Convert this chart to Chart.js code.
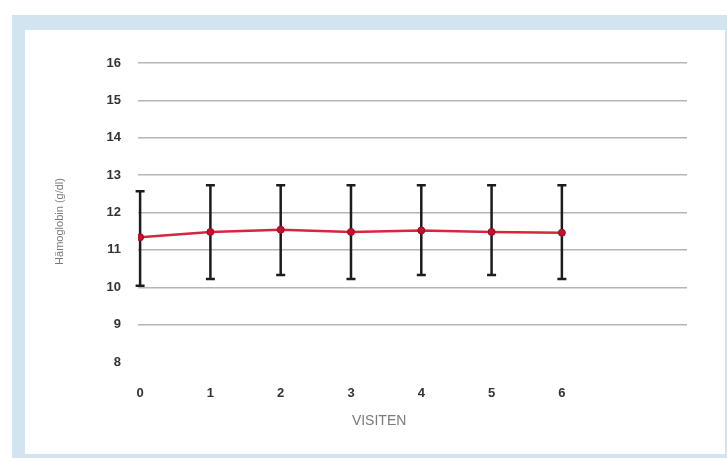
<!DOCTYPE html>
<html lang="de">
<head>
    <meta charset="utf-8" />
    <title>Hämoglobin</title>
    <style>
        html, body {
            margin: 0;
            padding: 0;
            background: #fff;
        }
        .frame {
            position: absolute;
            left: 12px;
            top: 15px;
            width: 715px;
            height: 443px;
            background: #d2e4ef;
        }
        .panel {
            position: absolute;
            left: 25px;
            top: 30px;
            width: 700px;
            height: 424px;
            background: #fff;
        }
    </style>
</head>
<body>
    <div class="frame"></div>
    <div class="panel">
        <canvas id="hbChart" width="700" height="424"></canvas>
    </div>

    <script src="https://cdn.jsdelivr.net/npm/chart.js@4/dist/chart.umd.min.js"></script>
    <script>
        // Werte
        var visits = [0, 1, 2, 3, 4, 5, 6];
        var meanHb = [11.34, 11.48, 11.54, 11.48, 11.52, 11.48, 11.46];
        var upperHb = [12.57, 12.73, 12.73, 12.73, 12.73, 12.73, 12.73];
        var lowerHb = [10.04, 10.22, 10.33, 10.22, 10.33, 10.33, 10.22];
        var yTicks = [8, 9, 10, 11, 12, 13, 14, 15, 16];
        var xTitle = 'VISITEN';
        var yTitle = 'Hämoglobin (g/dl)';

        var tickFont = { family: 'Liberation Sans, Arial, sans-serif', size: 13, weight: 'bold' };

        // Fehlerbalken über die Skalen des Diagramms zeichnen
        var errorBars = {
            id: 'errorBars',
            beforeDatasetsDraw: function (chart) {
                var ctx = chart.ctx;
                var xs = chart.scales.x;
                var ys = chart.scales.y;
                ctx.save();
                ctx.strokeStyle = '#1c1c1c';
                ctx.lineWidth = 2.5;
                for (var i = 0; i < visits.length; i++) {
                    var x = xs.getPixelForValue(visits[i]);
                    var yt = ys.getPixelForValue(upperHb[i]);
                    var yb = ys.getPixelForValue(lowerHb[i]);
                    ctx.beginPath();
                    ctx.moveTo(x, yt);
                    ctx.lineTo(x, yb);
                    ctx.moveTo(x - 4.5, yt);
                    ctx.lineTo(x + 4.5, yt);
                    ctx.moveTo(x - 4.5, yb);
                    ctx.lineTo(x + 4.5, yb);
                    ctx.stroke();
                }
                ctx.restore();
            }
        };

        // Achsentitel, etwas versetzt wie im Original
        var axisTitles = {
            id: 'axisTitles',
            afterDraw: function (chart) {
                var ctx = chart.ctx;
                var xs = chart.scales.x;
                var ys = chart.scales.y;
                ctx.save();
                ctx.textAlign = 'center';
                ctx.textBaseline = 'middle';
                ctx.fillStyle = '#7a7a7a';
                ctx.font = '14px "Liberation Sans", Arial, sans-serif';
                ctx.fillText(xTitle, xs.getPixelForValue(3.4), xs.bottom - 33);
                ctx.font = '11px "Liberation Sans", Arial, sans-serif';
                ctx.translate(35, ys.getPixelForValue(11.76));
                ctx.rotate(-Math.PI / 2);
                ctx.fillText(yTitle, 0, 0);
                ctx.restore();
            }
        };

        var ctx = document.getElementById('hbChart');
        var hbChart = new Chart(ctx, {
            type: 'line',
            data: {
                datasets: [{
                    data: visits.map(function (v, i) { return { x: v, y: meanHb[i] }; }),
                    borderColor: '#d7263d',
                    borderWidth: 2.5,
                    pointRadius: 3.5,
                    pointBackgroundColor: '#c8102e',
                    pointBorderColor: '#8e1020',
                    pointBorderWidth: 1,
                    tension: 0
                }]
            },
            options: {
                responsive: false,
                animation: false,
                layout: {
                    padding: { left: 0, top: 33, right: 38, bottom: 0 }
                },
                plugins: {
                    legend: { display: false },
                    tooltip: { enabled: false }
                },
                scales: {
                    x: {
                        type: 'linear',
                        min: -0.03,
                        max: 7.78,
                        afterBuildTicks: function (s) {
                            s.ticks = visits.map(function (v) { return { value: v }; });
                        },
                        afterFit: function (s) { s.height = 92; },
                        grid: { display: false },
                        border: { display: false },
                        ticks: {
                            padding: 16,
                            color: '#333',
                            font: tickFont
                        }
                    },
                    y: {
                        min: 8,
                        max: 16,
                        afterBuildTicks: function (s) {
                            s.ticks = yTicks.map(function (v) { return { value: v }; });
                        },
                        afterFit: function (s) { s.width = 113; },
                        border: { display: false },
                        grid: {
                            drawTicks: false,
                            lineWidth: 1.5,
                            color: function (c) {
                                return c.tick && c.tick.value === 8 ? 'rgba(0,0,0,0)' : '#b5b5b5';
                            }
                        },
                        ticks: {
                            padding: 17,
                            color: '#333',
                            font: tickFont
                        }
                    }
                }
            },
            plugins: [errorBars, axisTitles]
        });
    </script>
</body>
</html>
